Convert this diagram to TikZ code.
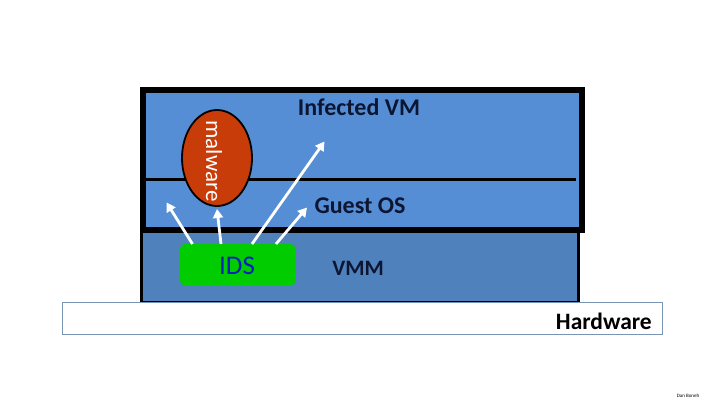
\documentclass[tikz,border=0pt]{standalone}
\usepackage{fontspec}
\setmainfont{Carlito}
\usetikzlibrary{arrows.meta,shapes.geometric}
\definecolor{vmblue}{RGB}{85,142,213}
\definecolor{vmmblue}{RGB}{79,129,189}
\definecolor{malred}{RGB}{200,60,10}
\definecolor{idsgreen}{RGB}{0,204,0}
\definecolor{idstext}{RGB}{0,32,192}
\definecolor{navy}{RGB}{12,22,50}
\definecolor{hwborder}{RGB}{120,150,180}
\tikzset{
  lbl/.style={font=\fontsize{24}{26}\selectfont\bfseries, text=navy, inner sep=0pt},
  wharrow/.style={draw=white, line width=2.8pt, -{Triangle[length=9pt,width=10pt]}},
}
\begin{document}
\begin{tikzpicture}[x=1pt,y=-1pt]
\useasboundingbox (0,0) rectangle (720,405);
% VMM layer
\draw[fill=vmmblue, line width=3pt] (141.5,226) -- (141.5,302) -- (578.5,302) -- (578.5,226);
% VM box
\node[draw, line width=6pt, fill=vmblue, minimum width=439pt, minimum height=140pt, inner sep=0pt, anchor=north west] (vm) at (140,87) {};
\draw[line width=3pt] (143,179.5) -- (576,179.5);
% Hardware
\node[draw=hwborder, line width=0.8pt, fill=white, minimum width=600pt, minimum height=32pt, inner sep=0pt, anchor=north west] (hw) at (62,302) {};
\node[font=\fontsize{23.5}{25}\selectfont\bfseries, text=black, anchor=east, inner sep=0pt] (hwtxt) at (652,321) {Hardware};
% malware
\node[ellipse, draw, line width=1.8pt, fill=malred, minimum width=70pt, minimum height=96pt, inner sep=0pt] (mal) at (217,158) {};
\node[rotate=-90, text=white, font=\fontsize{23}{25}\selectfont, inner sep=0pt] (maltxt) at (214,161) {malware};
% IDS
\node[rounded corners=4pt, fill=idsgreen, minimum width=115pt, minimum height=41pt, inner sep=0pt, anchor=north west] (ids) at (180,244) {};
\node[text=idstext, font=\fontsize{27}{29}\selectfont, inner sep=0pt] (idstxt) at (237,266) {IDS};
% labels
\node[lbl] (inf) at (359,107) {Infected VM};
\node[lbl] (gos) at (360,206) {Guest OS};
\node[lbl, font=\fontsize{22}{24}\selectfont\bfseries] (vmm) at (358,268) {VMM};
% arrows
\coordinate (t1) at (166.5,202.5);
\coordinate (t2) at (217,209);
\coordinate (t3) at (324.5,141.5);
\coordinate (t4) at (307,207.5);
\draw[wharrow] (ids.north west) ++(12.5,0) -- (t1);
\draw[wharrow] (ids.north west) ++(41,0) -- (t2);
\draw[wharrow] (ids.north west) ++(72,0) -- (t3);
\draw[wharrow] (ids.north west) ++(96,0) -- (t4);
% credit
\node[font=\fontsize{5}{6}\selectfont, inner sep=0pt] (cr) at (688,396) {Dan Boneh};
\end{tikzpicture}
\end{document}
